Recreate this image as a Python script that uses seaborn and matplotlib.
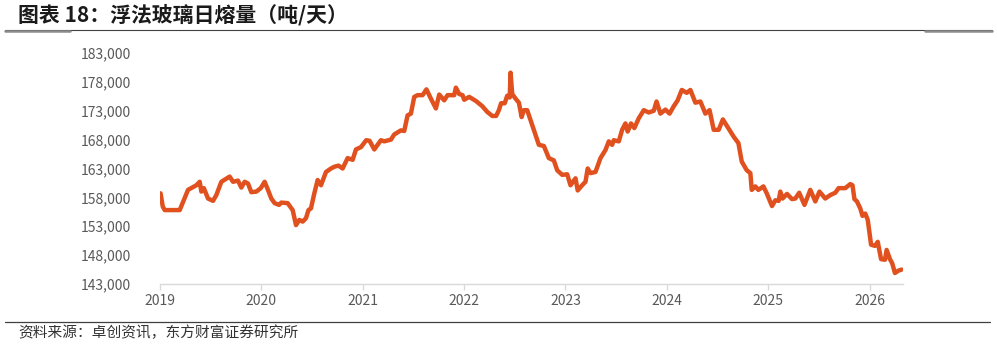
import matplotlib
matplotlib.use("Agg")
import matplotlib.pyplot as plt
import matplotlib.dates as mdates
from matplotlib.lines import Line2D
from matplotlib.ticker import FuncFormatter
import pandas as pd
import seaborn as sns

dates = [
    "2019-01-03", "2019-01-11", "2019-01-18", "2019-03-13", "2019-04-12", "2019-05-12",
    "2019-05-24", "2019-05-30", "2019-06-08", "2019-06-23", "2019-07-11", "2019-07-23",
    "2019-08-10", "2019-09-09", "2019-09-21", "2019-10-09", "2019-10-21", "2019-11-02",
    "2019-11-14", "2019-11-26", "2019-12-14", "2019-12-30", "2020-01-13", "2020-01-25",
    "2020-02-06", "2020-02-18", "2020-03-05", "2020-03-13", "2020-04-05", "2020-04-23",
    "2020-05-05", "2020-05-17", "2020-05-29", "2020-06-10", "2020-06-19", "2020-06-28",
    "2020-07-10", "2020-07-22", "2020-08-03", "2020-08-21", "2020-09-08", "2020-09-20",
    "2020-10-05", "2020-10-20", "2020-11-07", "2020-11-25", "2020-12-07", "2020-12-25",
    "2021-01-13", "2021-01-25", "2021-02-11", "2021-03-07", "2021-03-19", "2021-04-12",
    "2021-04-24", "2021-05-18", "2021-05-30", "2021-06-11", "2021-06-23", "2021-07-05",
    "2021-07-17", "2021-08-04", "2021-08-18", "2021-09-03", "2021-09-21", "2021-10-03",
    "2021-10-21", "2021-11-02", "2021-11-26", "2021-12-02", "2021-12-14", "2021-12-26",
    "2022-01-01", "2022-01-19", "2022-02-12", "2022-03-07", "2022-03-25", "2022-04-12",
    "2022-04-26", "2022-05-06", "2022-05-14", "2022-05-27", "2022-06-05", "2022-06-14",
    "2022-06-17", "2022-06-23", "2022-07-05", "2022-07-17", "2022-07-27", "2022-08-04",
    "2022-08-16", "2022-08-28", "2022-09-09", "2022-09-27", "2022-10-15", "2022-11-02",
    "2022-11-20", "2022-12-02", "2022-12-20", "2023-01-07", "2023-01-19", "2023-02-06",
    "2023-02-14", "2023-03-02", "2023-03-14", "2023-03-22", "2023-04-01", "2023-04-19",
    "2023-05-07", "2023-05-25", "2023-06-06", "2023-06-18", "2023-06-24", "2023-07-12",
    "2023-07-24", "2023-08-05", "2023-08-13", "2023-08-25", "2023-09-06", "2023-09-22",
    "2023-10-10", "2023-10-28", "2023-11-15", "2023-11-25", "2023-12-09", "2023-12-27",
    "2024-01-11", "2024-01-25", "2024-02-09", "2024-02-24", "2024-03-13", "2024-03-26",
    "2024-04-13", "2024-05-01", "2024-05-19", "2024-06-03", "2024-06-18", "2024-07-06",
    "2024-07-21", "2024-08-29", "2024-09-15", "2024-09-27", "2024-10-15", "2024-10-28",
    "2024-11-02", "2024-11-15", "2024-11-26", "2024-12-14", "2024-12-26", "2025-01-14",
    "2025-01-26", "2025-02-07", "2025-02-13", "2025-02-21", "2025-03-09", "2025-03-27",
    "2025-04-08", "2025-04-22", "2025-05-11", "2025-06-01", "2025-06-19", "2025-07-04",
    "2025-07-25", "2025-08-12", "2025-08-30", "2025-09-11", "2025-10-05", "2025-10-23",
    "2025-10-31", "2025-11-07", "2025-11-16", "2025-11-28", "2025-12-06", "2025-12-16",
    "2025-12-25", "2026-01-06", "2026-01-20", "2026-01-30", "2026-02-11", "2026-02-25",
    "2026-03-03", "2026-03-15", "2026-03-23", "2026-04-02", "2026-04-14", "2026-04-26",
]
melt_volume = [
    158700, 156400, 155800, 155800, 159300, 160100,
    160700, 159000, 159600, 157800, 157400, 158400,
    160700, 161600, 160700, 160900, 159700, 160700,
    160400, 158900, 159000, 159600, 160700, 159300,
    157800, 157000, 156700, 157100, 157000, 155800,
    153200, 154100, 153800, 154400, 155800, 156100,
    158700, 161000, 160100, 162400, 163000, 163300,
    163500, 163000, 164800, 164500, 166300, 166700,
    167900, 167800, 166300, 167900, 167700, 168000,
    168900, 169600, 169500, 172200, 172500, 175400,
    175700, 175700, 176700, 175100, 173400, 175800,
    174800, 175700, 175700, 177000, 175900, 175700,
    174900, 175400, 174700, 173800, 172800, 172100,
    172100, 173100, 174300, 174300, 175600, 175300,
    179600, 175900, 175100, 174400, 171900, 173100,
    173100, 171400, 169700, 167100, 166900, 164800,
    164400, 162700, 161900, 162000, 160100, 161300,
    159200, 160100, 160700, 163000, 162200, 162400,
    164800, 166200, 167700, 167100, 167900, 167700,
    169700, 170800, 169400, 170800, 170000, 171700,
    173100, 172700, 173000, 174600, 172500, 173200,
    172500, 173700, 174800, 176600, 176100, 176600,
    174400, 174600, 172500, 173100, 169700, 169700,
    171500, 168500, 167400, 164200, 162700, 162200,
    159300, 159900, 159300, 159900, 158700, 156500,
    157500, 157400, 159000, 157800, 158600, 157700,
    157800, 158800, 156700, 159300, 157300, 159000,
    157800, 158400, 158800, 159600, 159600, 160300,
    160100, 157700, 157300, 156100, 154800, 155200,
    154100, 149800, 149600, 150300, 147300, 147200,
    148900, 147300, 146600, 144900, 145300, 145500,
]
y_ticks = [143000, 148000, 153000, 158000, 163000, 168000, 173000, 178000, 183000]
x_years = [2019, 2020, 2021, 2022, 2023, 2024, 2025, 2026]

title = "图表 18：浮法玻璃日熔量（吨/天）"
source = "资料来源：卓创资讯，东方财富证券研究所"

df = pd.DataFrame({"date": pd.to_datetime(dates), "value": melt_volume})

sns.set_theme(style="white")
plt.rcParams["font.family"] = ["Noto Sans CJK SC", "DejaVu Sans"]

W, H = 997, 346
fig = plt.figure(figsize=(W / 100, H / 100), dpi=100)
ax = fig.add_axes([160 / W, 1 - 284 / H, (903 - 160) / W, (284 - 53) / H])

sns.lineplot(data=df, x="date", y="value", ax=ax, color="#E0511F", linewidth=3.2,
             solid_joinstyle="round", solid_capstyle="round")

ax.set_ylim(y_ticks[0], y_ticks[-1])
ax.set_yticks(y_ticks)
ax.yaxis.set_major_formatter(FuncFormatter(lambda v, p: f"{int(v):,}"))
ax.set_xlim(pd.Timestamp("2019-01-01"), pd.Timestamp("2026-05-01"))
ax.set_xticks([pd.Timestamp(f"{y}-01-01") for y in x_years])
ax.xaxis.set_major_formatter(mdates.DateFormatter("%Y"))
ax.set_xlabel("")
ax.set_ylabel("")

for s in ["top", "right", "left"]:
    ax.spines[s].set_visible(False)
ax.spines["bottom"].set_color("#D9D9D9")
ax.spines["bottom"].set_linewidth(1.0)
ax.tick_params(axis="x", bottom=True, length=4, width=1, color="#D9D9D9",
               labelsize=10, labelcolor="#595959", pad=3)
ax.tick_params(axis="y", left=False, labelsize=10, labelcolor="#595959", pad=15)
ax.grid(False)

# header / footer decoration
fig.text(18 / W, 1 - 15 / H, title, fontsize=15, fontweight="bold",
         color="#1a1a1a", va="center", ha="left")
fig.add_artist(Line2D([5 / W, 992 / W], [1 - 30 / H, 1 - 30 / H], color="#404040", linewidth=0.8))
fig.add_artist(Line2D([5 / W, 70 / W], [1 - 30.5 / H, 1 - 30.5 / H], color="#8c8c8c", linewidth=1.8))
fig.add_artist(Line2D([925 / W, 992 / W], [1 - 30.5 / H, 1 - 30.5 / H], color="#8c8c8c", linewidth=1.8))
fig.add_artist(Line2D([5 / W, 990 / W], [1 - 322 / H, 1 - 322 / H], color="#404040", linewidth=0.9))
fig.text(18 / W, 1 - 333 / H, source, fontsize=10.6, color="#333333", va="center", ha="left")

fig.savefig("out.png", dpi=100)
